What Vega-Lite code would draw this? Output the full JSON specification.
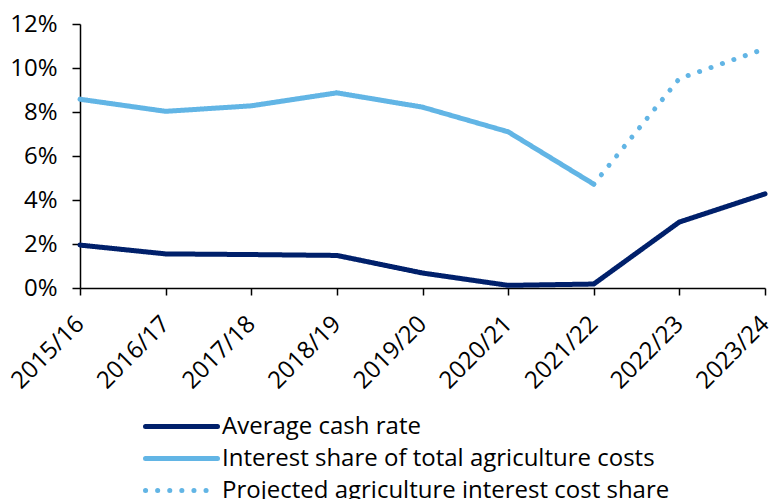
{
  "$schema": "https://vega.github.io/schema/vega-lite/v6.json",
  "width": 685,
  "height": 264,
  "autosize": "none",
  "padding": {"left": 80, "top": 24, "right": 7, "bottom": 211},
  "background": "white",
  "config": {
    "font": "Open Sans",
    "view": {"stroke": null}
  },
  "data": {
    "values": [
      {"year": "2015/16", "series": "Average cash rate", "value": 1.95},
      {"year": "2016/17", "series": "Average cash rate", "value": 1.55},
      {"year": "2017/18", "series": "Average cash rate", "value": 1.52},
      {"year": "2018/19", "series": "Average cash rate", "value": 1.48},
      {"year": "2019/20", "series": "Average cash rate", "value": 0.68},
      {"year": "2020/21", "series": "Average cash rate", "value": 0.12},
      {"year": "2021/22", "series": "Average cash rate", "value": 0.18},
      {"year": "2022/23", "series": "Average cash rate", "value": 3.0},
      {"year": "2023/24", "series": "Average cash rate", "value": 4.28},
      {"year": "2015/16", "series": "Interest share of total agriculture costs", "value": 8.58},
      {"year": "2016/17", "series": "Interest share of total agriculture costs", "value": 8.03},
      {"year": "2017/18", "series": "Interest share of total agriculture costs", "value": 8.28},
      {"year": "2018/19", "series": "Interest share of total agriculture costs", "value": 8.87},
      {"year": "2019/20", "series": "Interest share of total agriculture costs", "value": 8.22},
      {"year": "2020/21", "series": "Interest share of total agriculture costs", "value": 7.1},
      {"year": "2021/22", "series": "Interest share of total agriculture costs", "value": 4.72},
      {"year": "2021/22", "series": "Projected agriculture interest cost share", "value": 4.72},
      {"year": "2022/23", "series": "Projected agriculture interest cost share", "value": 9.52},
      {"year": "2023/24", "series": "Projected agriculture interest cost share", "value": 10.88}
    ]
  },
  "mark": {"type": "line", "strokeWidth": 5, "strokeCap": "round", "strokeJoin": "miter"},
  "encoding": {
    "x": {
      "field": "year", "type": "ordinal",
      "scale": {"type": "point", "padding": 0},
      "axis": {
        "title": null, "labelAngle": -45, "labelAlign": "right", "labelBaseline": "middle",
        "labelFontSize": 24, "labelColor": "#000", "domainColor": "#000", "tickColor": "#000",
        "domainWidth": 1.5, "tickWidth": 1.5, "tickSize": 7, "labelPadding": 25, "grid": false
      }
    },
    "y": {
      "field": "value", "type": "quantitative",
      "scale": {"domain": [0, 12]},
      "axis": {
        "title": null, "values": [0, 2, 4, 6, 8, 10, 12],
        "labelExpr": "datum.value + '%'",
        "labelFontSize": 24, "labelColor": "#000", "domainColor": "#000", "tickColor": "#000",
        "domainWidth": 1.5, "tickWidth": 1.5, "tickSize": 8, "labelPadding": 15, "grid": false
      }
    },
    "color": {
      "field": "series", "type": "nominal",
      "scale": {
        "domain": ["Average cash rate", "Interest share of total agriculture costs", "Projected agriculture interest cost share"],
        "range": ["#00206b", "#62b5e5", "#62b5e5"]
      },
      "legend": {
        "title": null, "orient": "none", "legendX": 87, "legendY": 388,
        "labelFontSize": 24, "labelColor": "#000", "symbolType": "M-3,0L3,0",
        "symbolSize": 576, "symbolStrokeWidth": 5, "rowPadding": 5, "labelOffset": 26,
        "labelLimit": 700,
        "symbolDash": null,
        "encode": {"symbols": {"update": {"strokeCap": {"value": "round"}}}}
      }
    },
    "strokeDash": {
      "field": "series", "type": "nominal",
      "scale": {
        "domain": ["Average cash rate", "Interest share of total agriculture costs", "Projected agriculture interest cost share"],
        "range": [[1, 0], [1, 0], [0.1, 12]]
      },
      "legend": null
    }
  }
}
